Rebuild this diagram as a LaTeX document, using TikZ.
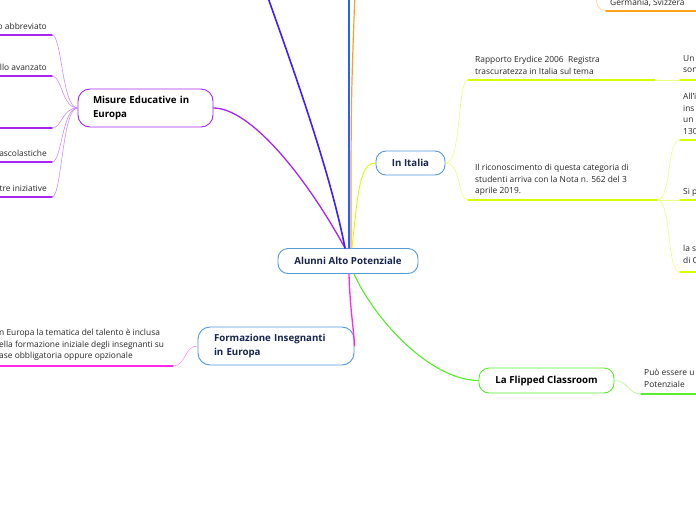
\documentclass[tikz,border=0pt]{standalone}
\usepackage{fontspec}
\setmainfont{Open Sans}
\usetikzlibrary{positioning}
\definecolor{nodeblue}{RGB}{84,152,216}
\definecolor{navytext}{RGB}{22,36,78}
\definecolor{misurepurple}{RGB}{168,38,240}
\definecolor{lilac}{RGB}{205,140,255}
\definecolor{violetline}{RGB}{62,30,250}
\definecolor{blueline}{RGB}{40,96,255}
\definecolor{orangeline}{RGB}{255,160,30}
\definecolor{paleorange}{RGB}{255,205,140}
\definecolor{limeline}{RGB}{212,255,0}
\definecolor{palelime}{RGB}{232,255,130}
\definecolor{magentaline}{RGB}{255,40,230}
\definecolor{pinkline}{RGB}{255,150,240}
\definecolor{greenline}{RGB}{85,238,40}
\definecolor{palegreen}{RGB}{175,250,145}

\begin{document}
\begin{tikzpicture}[x=1pt, y=-1pt, line cap=round,
            topic/.style ={draw=nodeblue, line width=0.9pt, rounded corners=10pt, fill=white,
            inner sep=0pt, text=navytext, font=\fontsize{9.7}{14}\selectfont\bfseries},
            leaf/.style ={inner sep=0pt, align=left, text=black!85, font=\fontsize{8.4}{11.5}\selectfont},
            stem/.style ={line width=0.6pt},
            under/.style ={line width=1.4pt}]

        \path[use as bounding box, clip] (0,0) rectangle (696,520);
        \coordinate (edgeL) at (0,0);
        \coordinate (edgeR) at (696,0);

        %\node [estilo] (nombre) at (posicion) {};

        \node[topic, minimum width=140pt, minimum height=25pt] (alunni) at (348,261) {Alunni Alto Potenziale};

        \node[topic, draw=misurepurple, text=black, rounded corners=12pt, minimum width=135pt, minimum height=38pt,
              text width=105pt, align=left] (misure) at (145.5,108) {Misure Educative in\\Europa};
        \node[topic, minimum width=69pt, minimum height=24pt] (italia) at (410.5,163) {In Italia};
        \node[topic, rounded corners=12pt, minimum width=156pt, minimum height=38pt,
              text width=124pt, align=left] (formazione) at (276,346) {Formazione Insegnanti\\in Europa};
        \node[topic, draw=greenline, text=black, minimum width=135pt, minimum height=25pt] (flipped) at (546.5,380.5) {La Flipped Classroom};

        %%--------------------------rami principali-------------

        \draw[misurepurple, line width=1.3pt] (misure.east) .. controls (250,108) and (305,175) .. ([xshift=-3pt]alunni.north);
        \coordinate (topA) at (266,-8);
        \draw[violetline, line width=1.6pt] ([xshift=-3pt]alunni.north) .. controls (330,170) and (290,60) .. (topA);
        \coordinate (topB) at (349,-8);
        \draw[blueline, line width=1.6pt] ([xshift=1pt]alunni.north) -- (topB);
        \coordinate (topC) at (355,-8);
        \draw[orangeline, line width=1.2pt] ([xshift=3pt]alunni.north) .. controls (351,100) .. (topC);
        \draw[limeline, line width=0.9pt] ([xshift=4pt]alunni.north) .. controls (358,190) and (360,163) .. (italia.west);
        \draw[magentaline, line width=1.3pt] ([xshift=1pt]alunni.south) .. controls (350,310) and (354,330) .. (formazione.east);
        \draw[greenline, line width=1.1pt] ([xshift=6pt]alunni.south) .. controls (375,320) and (430,380) .. (flipped.west);

        %%--------------------------misure educative-------------

        \coordinate (m1) at (52,35);
        \coordinate (m2) at (52,76);
        \coordinate (m3) at (52,128);
        \coordinate (m4) at (52,162);
        \coordinate (m5) at (52,197);
        \node[leaf, anchor=base east] (mt1) at (47,29) {o abbreviato};
        \node[leaf, anchor=base east] (mt2) at (47,70) {llo avanzato};
        \node[leaf, anchor=base east] (mt4) at (47,156) {ascolastiche};
        \node[leaf, anchor=base east] (mt5) at (47,191) {tre iniziative};
        \foreach \m in {m1,m2,m3,m4,m5}{
            \draw[lilac, stem] (misure.west) .. controls (62,108) and (62,0 |- \m) .. (\m);
            \draw[misurepurple, under] (\m) -- (\m -| edgeL);
        }

        %%--------------------------in italia-------------

        \coordinate (i1) at (468,80);
        \coordinate (i2) at (468,200);
        \node[leaf, anchor=north west] (it1) at (475,56) {Rapporto Erydice 2006\ \ Registra\\trascuratezza in Italia sul tema};
        \node[leaf, anchor=north west] (it2) at (475,164) {Il riconoscimento di questa categoria di\\studenti arriva con la Nota n. 562 del 3\\aprile 2019.};
        \draw[palelime, stem] (italia.east) .. controls (462,163) and (457,80) .. (i1);
        \draw[palelime, stem] (italia.east) .. controls (462,163) and (457,200) .. (i2);
        \coordinate (i1e) at (655,80);
        \coordinate (i2e) at (657,200);
        \draw[limeline, under] (i1) -- (i1e);
        \draw[limeline, under] (i2) -- (i2e);

        \coordinate (g0) at (680,80);
        \coordinate (g1) at (680,140);
        \coordinate (g2) at (680,200);
        \coordinate (g3) at (680,272);
        \node[leaf, anchor=north west] (gt0) at (683,55) {Un\\son};
        \node[leaf, anchor=north west] (gt1) at (683,93) {All'i\\ins\\un\\130};
        \node[leaf, anchor=north west] (gt2) at (683,188) {Si p};
        \node[leaf, anchor=north west] (gt3) at (683,245) {la s\\di C};
        \draw[palelime, stem] (i1e) -- (g0);
        \draw[palelime, stem] (i2e) .. controls (672,200) and (666,140) .. (g1);
        \draw[palelime, stem] (i2e) -- (g2);
        \draw[palelime, stem] (i2e) .. controls (672,200) and (666,272) .. (g3);
        \foreach \g in {g0,g1,g2,g3}
            \draw[limeline, under] (\g) -- (\g -| edgeR);

        %%--------------------------germania-------------

        \coordinate (o0) at (596,-6);
        \coordinate (o1) at (606,11);
        \node[leaf, anchor=base west] (ot1) at (610,5) {Germania, Svizzera};
        \draw[paleorange, stem] (o0) .. controls (597,8) .. (o1);
        \draw[orangeline, under] (o1) -- (o1 -| edgeR);

        %%--------------------------formazione-------------

        \coordinate (f1) at (173,366);
        \node[leaf, anchor=north west] (ft1) at (-1,329) {n Europa la tematica del talento è inclusa\\ella formazione iniziale degli insegnanti su\\ase obbligatoria oppure opzionale};
        \draw[pinkline, stem] (formazione.west) .. controls (184,346) and (186,366) .. (f1);
        \draw[magentaline, under] (f1) -- (f1 -| edgeL);

        %%--------------------------flipped-------------

        \coordinate (c1) at (641,394);
        \node[leaf, anchor=north west] (ct1) at (644,369) {Può essere u\\Potenziale};
        \draw[palegreen, stem] (flipped.east) .. controls (628,380.5) and (628,394) .. (c1);
        \draw[greenline, under] (c1) -- (c1 -| edgeR);

\end{tikzpicture}
\end{document}
